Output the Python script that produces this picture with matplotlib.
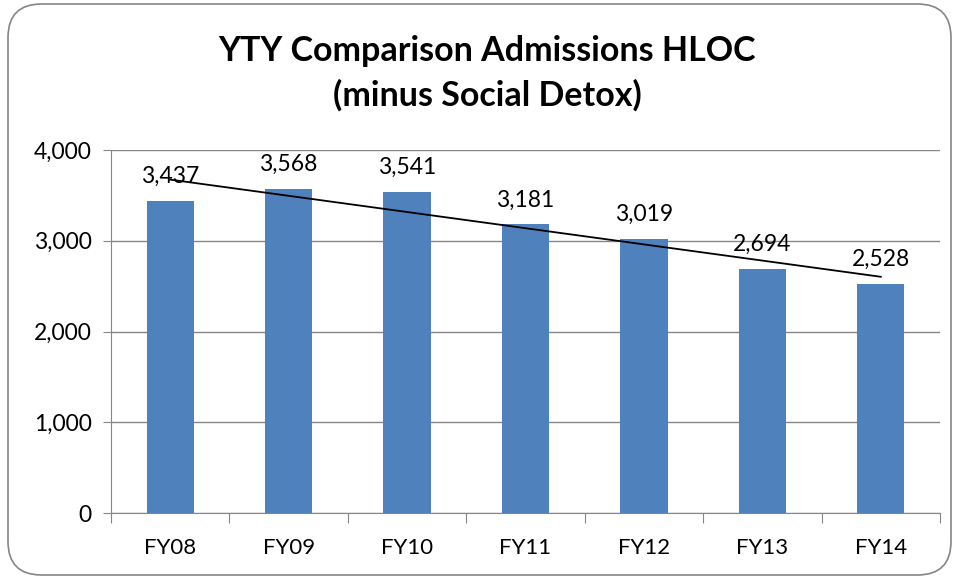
import matplotlib
matplotlib.use("Agg")
import matplotlib.pyplot as plt
import numpy as np
from matplotlib.patches import FancyBboxPatch

categories = ["FY08", "FY09", "FY10", "FY11", "FY12", "FY13", "FY14"]
admissions = [3437, 3568, 3541, 3181, 3019, 2694, 2528]
yticks = [0, 1000, 2000, 3000, 4000]
title = "YTY Comparison Admissions HLOC\n(minus Social Detox)"

plt.rcParams['font.family'] = ['Lato', 'DejaVu Sans']

fig = plt.figure(figsize=(9.59, 5.79), dpi=100)
border = FancyBboxPatch((8/959, 4/579), 943/959, 571/579,
                        boxstyle="round,pad=0,rounding_size=0.035",
                        transform=fig.transFigure, fill=False,
                        edgecolor="#868686", linewidth=1.2, mutation_aspect=959/579)
fig.patches.append(border)

ax = fig.add_axes([111/959, 1-513/579, (940-111)/959, (513-150)/579])
x = np.arange(1, len(categories) + 1)
ax.bar(x, admissions, width=0.4, color="#4F81BD", zorder=3)

# linear trendline
coef = np.polyfit(x, admissions, 1)
ax.plot(x, np.polyval(coef, x), color="black", linewidth=1.3, zorder=4)

for xi, v in zip(x, admissions):
    ax.annotate(f"{v:,}", (xi, v), xytext=(0, 10), textcoords="offset points",
                ha="center", va="bottom", fontsize=16.5, zorder=5)

ax.set_xlim(0.5, len(categories) + 0.5)
ax.set_ylim(0, 4000)
ax.set_yticks(yticks)
ax.set_yticklabels([f"{t:,}" for t in yticks], fontsize=16.5)
ax.set_xticks(np.arange(0.5, len(categories) + 1, 1))
ax.set_xticklabels([])
ax.set_xticks(x, minor=True)
ax.set_xticklabels(categories, minor=True, fontsize=16)
ax.tick_params(axis="x", which="major", length=7, color="#868686", direction="out")
ax.tick_params(axis="x", which="minor", length=0, pad=18)
ax.tick_params(axis="y", length=6, color="#868686", direction="out", pad=8)
ax.grid(axis="y", color="#868686", linewidth=1, zorder=0)
for s in ["top", "right"]:
    ax.spines[s].set_visible(False)
for s in ["left", "bottom"]:
    ax.spines[s].set_color("#868686")

fig.text(487/959, 1-73/579, title, ha="center", va="center",
         fontsize=24.5, fontweight="bold", linespacing=1.45)

fig.savefig("out.png", dpi=100)
